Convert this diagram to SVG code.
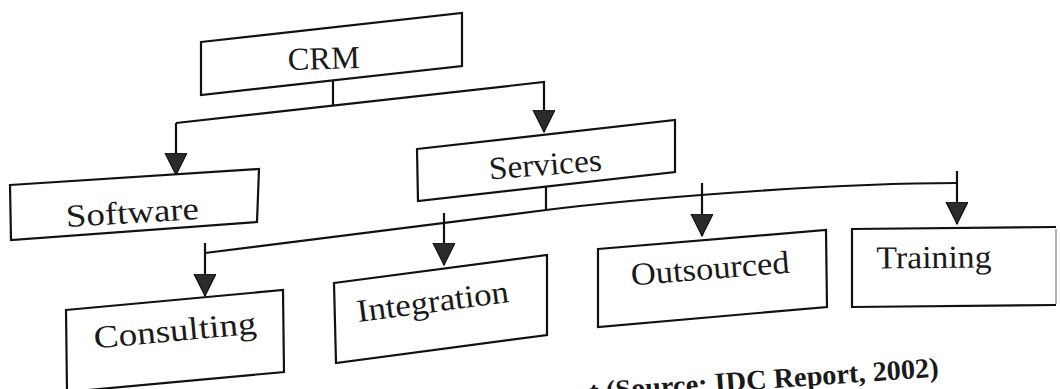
<svg xmlns="http://www.w3.org/2000/svg" width="1060" height="389" viewBox="0 0 1060 389">
  <style>
    .box { fill: #ffffff; stroke: #111111; stroke-width: 2.2; stroke-linejoin: miter; }
    .lbl { font-family: "Liberation Serif", "Times New Roman", serif; font-size: 32px; fill: #1a1a1a; text-anchor: middle; }
    .link { fill: none; stroke: #111111; stroke-width: 2.2; }
    .src { font-family: "Liberation Serif", "Times New Roman", serif; font-size: 28px; font-weight: bold; fill: #1a1a1a; }
  </style>
  <defs>
    <marker id="tri" markerUnits="userSpaceOnUse" markerWidth="24" markerHeight="24" refX="22" refY="11" orient="auto">
      <path d="M0,0 L22,11 L0,22 Z" fill="#2b2b2b" stroke="#111111" stroke-width="1.2"/>
    </marker>
  </defs>

  <rect width="1060" height="389" fill="#ffffff"/>

  <!-- connectors -->
  <g id="connectors">
    <!-- CRM stem and branch to Software / Services -->
    <path class="link" d="M333,80 L333,106"/>
    <path class="link" d="M176,123 L544,82 L544,132" marker-end="url(#tri)"/>
    <path class="link" d="M176,123 L176,175" marker-end="url(#tri)"/>
    <!-- Services stem and distribution rail -->
    <path class="link" d="M546,187 L546,210"/>
    <path class="link" d="M205,253 L546,210 C620,200.7 820,183 957,183"/>
    <path class="link" d="M205,243 L205,296" marker-end="url(#tri)"/>
    <path class="link" d="M444,213 L444,265" marker-end="url(#tri)"/>
    <path class="link" d="M702,183 L702,236" marker-end="url(#tri)"/>
    <path class="link" d="M957,171 L957,224" marker-end="url(#tri)"/>
  </g>

  <g id="node-crm">
    <path class="box" d="M201,42 L462,13 L462,66 L201,95 Z"/>
    <text class="lbl" x="324" y="69" textLength="72" lengthAdjust="spacingAndGlyphs" transform="rotate(-1.5 324 69)">CRM</text>
  </g>

  <g id="node-software">
    <path class="box" d="M10,185 L259,169 L257,222 L11,240 Z"/>
    <text class="lbl" x="133" y="223" textLength="133" lengthAdjust="spacingAndGlyphs" transform="rotate(-3.5 133 223)">Software</text>
  </g>

  <g id="node-services">
    <path class="box" d="M417,149 L675,120 L675,172 L418,201 Z"/>
    <text class="lbl" x="546" y="175" textLength="113" lengthAdjust="spacingAndGlyphs" transform="rotate(-4.5 546 175)">Services</text>
  </g>

  <g id="node-consulting">
    <path class="box" d="M66,310 L283,290 L284,372 L67,392 Z"/>
    <text class="lbl" x="176" y="341" textLength="163" lengthAdjust="spacingAndGlyphs" transform="rotate(-5.3 176 341)">Consulting</text>
  </g>

  <g id="node-integration">
    <path class="box" d="M334,283 L547,255 L547,335 L336,363 Z"/>
    <text class="lbl" x="434" y="312" textLength="153" lengthAdjust="spacingAndGlyphs" transform="rotate(-7.5 434 312)">Integration</text>
  </g>

  <g id="node-outsourced">
    <path class="box" d="M598,249 L826,230 L827,307 L598,327 Z"/>
    <text class="lbl" x="711" y="279" textLength="159" lengthAdjust="spacingAndGlyphs" transform="rotate(-4.7 711 279)">Outsourced</text>
  </g>

  <g id="node-training">
    <path class="box" d="M1056,227 L852,229 L852,307 L1056,305"/>
    <path d="M1056,229 L1056,304" stroke="#9a9a9a" stroke-width="1.5" fill="none"/>
    <text class="lbl" x="934" y="268" textLength="115" lengthAdjust="spacingAndGlyphs" transform="rotate(-0.5 934 268)">Training</text>
  </g>

  <!-- caption, cut by the bottom edge -->
  <text class="src" x="590" y="401" textLength="350" lengthAdjust="spacingAndGlyphs" transform="rotate(-4 590 401)">t (Source: IDC Report, 2002)</text>
</svg>
